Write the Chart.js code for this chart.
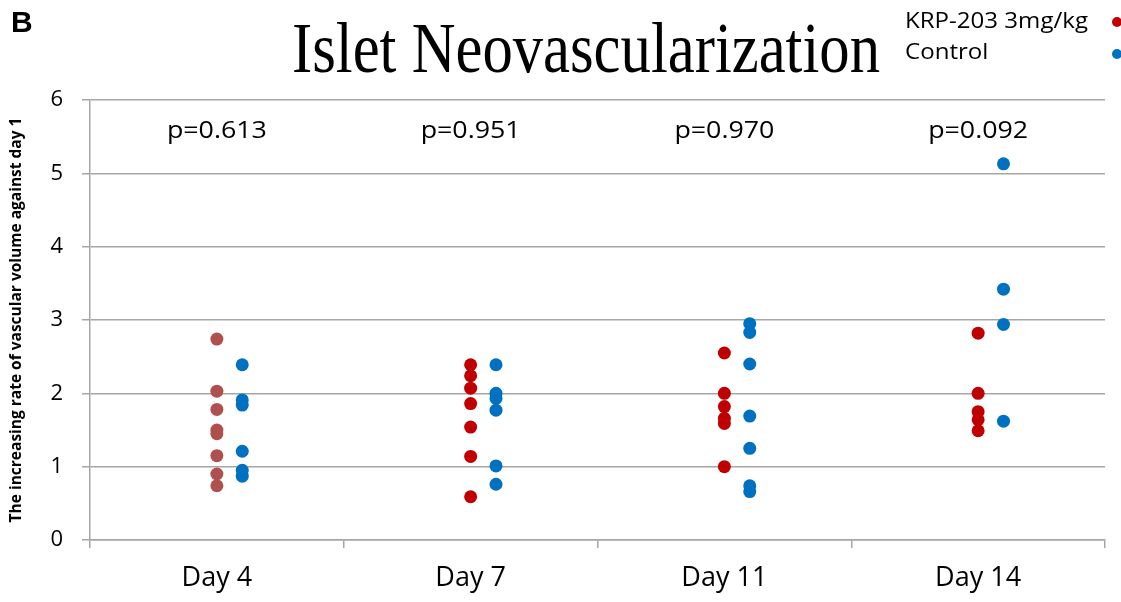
<!DOCTYPE html>
<html><head><meta charset="utf-8">
<script src="https://cdn.jsdelivr.net/npm/chart.js@4"></script>
<style>html,body{margin:0;padding:0;background:#fff;}canvas{display:block;}</style>
</head><body>
<canvas id="c" width="1121" height="602"></canvas>
<script>
const categories = ["Day 4", "Day 7", "Day 11", "Day 14"];
const pValues = ["p=0.613", "p=0.951", "p=0.970", "p=0.092"];
const yTicks = [0, 1, 2, 3, 4, 5, 6];
const krpDay4 = [2.74, 2.03, 1.78, 1.50, 1.45, 1.15, 0.90, 0.74];
const krpDay7 = [2.39, 2.24, 2.07, 1.86, 1.54, 1.14, 0.59];
const krpDay11 = [2.55, 2.00, 1.82, 1.66, 1.59, 1.00];
const krpDay14 = [2.82, 2.00, 1.75, 1.64, 1.49];
const ctlDay4 = [2.39, 1.91, 1.84, 1.21, 0.95, 0.87];
const ctlDay7 = [2.39, 2.00, 1.93, 1.77, 1.01, 0.76];
const ctlDay11 = [2.95, 2.83, 2.40, 1.69, 1.25, 0.74, 0.66];
const ctlDay14 = [5.13, 3.42, 2.94, 1.62];
const seriesNames = ["KRP-203 3mg/kg", "Control"];

const krp = [krpDay4, krpDay7, krpDay11, krpDay14];
const ctl = [ctlDay4, ctlDay7, ctlDay11, ctlDay14];
const RED = "#C00000", RED4 = "#B0504E", BLUE = "#0070C0";
const FONT = '"Open Sans", Lato, sans-serif';

function pts(groups, offset) {
  const out = [];
  groups.forEach((g, i) => g.forEach(v => out.push({x: i + 0.5 + offset, y: v})));
  return out;
}
const krpPts = pts(krp, 0);
const krpColors = [];
krp.forEach((g, i) => g.forEach(() => krpColors.push(i === 0 ? RED4 : RED)));

function fitText(c, text, x, y, width, align) {
  const w = c.measureText(text).width;
  c.save();
  c.translate(x, y);
  c.scale(width / w, 1);
  c.textAlign = align || 'center';
  c.fillText(text, 0, 0);
  c.restore();
}

const overlay = {
  id: 'overlay',
  afterDraw(chart) {
    const c = chart.ctx, xs = chart.scales.x, ys = chart.scales.y;
    c.save();
    c.fillStyle = '#000';
    c.font = 'bold 30px "Liberation Sans", Arial';
    c.textAlign = 'left'; c.textBaseline = 'alphabetic';
    c.fillText('B', 11, 32);
    // Title
    c.font = '71px "Liberation Serif", "Times New Roman", serif';
    fitText(c, 'Islet Neovascularization', 586, 72, 588);
    // p values
    c.font = '24px ' + FONT;
    c.textBaseline = 'middle';
    pValues.forEach((p, i) => fitText(c, p, xs.getPixelForValue(i + 0.5), ys.getPixelForValue(5.57), 100));
    // legend
    c.font = '22px ' + FONT;
    fitText(c, seriesNames[0], 905, 22, 183, 'left');
    const k = 183 / c.measureText(seriesNames[0]).width;
    fitText(c, seriesNames[1], 905, 53, c.measureText(seriesNames[1]).width * k, 'left');
    c.fillStyle = RED; c.beginPath(); c.arc(1117, 22, 5, 0, Math.PI * 2); c.fill();
    c.fillStyle = BLUE; c.beginPath(); c.arc(1117, 54, 5, 0, Math.PI * 2); c.fill();
    c.restore();
  }
};

new Chart(document.getElementById('c'), {
  type: 'scatter',
  data: {
    datasets: [
      {label: seriesNames[0], data: krpPts, backgroundColor: krpColors, borderColor: krpColors, pointRadius: 6.5, pointHoverRadius: 6.5, borderWidth: 0},
      {label: seriesNames[1], data: pts(ctl, 0.1), backgroundColor: BLUE, borderColor: BLUE, pointRadius: 6.5, pointHoverRadius: 6.5, borderWidth: 0}
    ]
  },
  options: {
    responsive: false,
    animation: false,
    events: [],
    layout: {padding: {top: 100, right: 16, left: 0, bottom: 0}},
    plugins: {legend: {display: false}, tooltip: {enabled: false}},
    scales: {
      x: {
        type: 'linear', min: 0, max: 4,
        afterBuildTicks(s) { const t = []; for (let v = 0; v <= 4; v += 0.5) t.push({value: v}); s.ticks = t; },
        afterFit(s) { s.height = 62; },
        ticks: {
          autoSkip: false, maxRotation: 0, padding: 14, color: '#000',
          font: {family: FONT, size: 27},
          callback(v) { const i = v - 0.5; return Number.isInteger(i) ? categories[i] : ''; }
        },
        grid: {
          drawOnChartArea: false, tickLength: 8, lineWidth: 1.5,
          color: '#A6A6A6',
          tickColor: ctx => (ctx.tick && Number.isInteger(ctx.tick.value)) ? '#A6A6A6' : 'rgba(0,0,0,0)'
        },
        border: {color: '#A6A6A6', width: 1.5}
      },
      y: {
        min: 0, max: 6,
        afterBuildTicks(s) { s.ticks = yTicks.map(v => ({value: v})); },
        afterFit(s) { s.width = 90; },
        ticks: {padding: 19, color: '#000', font: {family: FONT, size: 22}},
        grid: {color: '#A6A6A6', lineWidth: 1.5, tickLength: 8},
        border: {color: '#A6A6A6', width: 1.5},
        title: {
          display: true, text: 'The increasing rate of vascular volume against day 1',
          color: '#000', font: {family: FONT, size: 15.5, weight: 'bold'},
          padding: {top: 7, bottom: 0}
        }
      }
    }
  },
  plugins: [overlay]
});
</script>
</body></html>
